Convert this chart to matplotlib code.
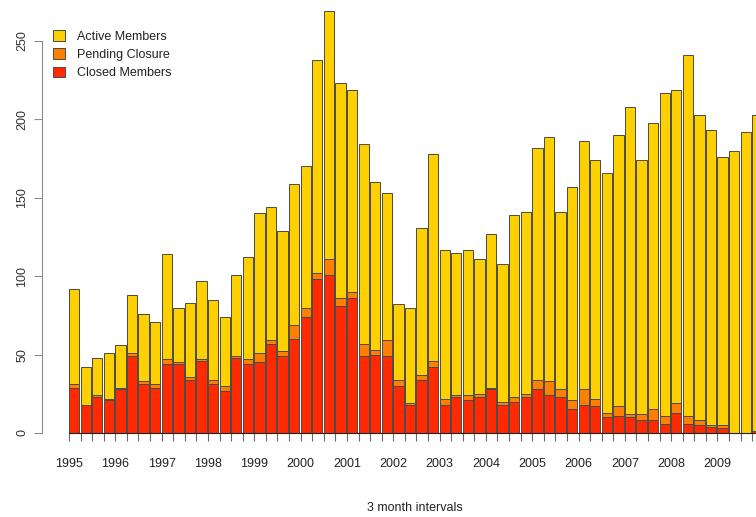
"""Quarterly membership counts, stacked bars (closed / pending / active)."""

import matplotlib

matplotlib.use("Agg")
import matplotlib.pyplot as plt
from matplotlib.patches import Patch

plt.rcParams["font.family"] = ["Liberation Sans", "DejaVu Sans"]

# one bar per quarter, 1995 Q1 onwards
totals = [92, 42, 48, 51, 56, 88, 76, 71, 114, 80,
          83, 97, 85, 74, 101, 112, 140, 144, 129, 159,
          170, 238, 269, 223, 219, 184, 160, 153, 82, 80,
          131, 178, 117, 115, 117, 111, 127, 108, 139, 141,
          182, 189, 141, 157, 186, 174, 166, 190, 208, 174,
          198, 217, 219, 241, 203, 193, 176, 180, 192, 203]
closed = [29, 18, 23, 21, 28, 49, 31, 29, 44, 44,
          34, 46, 31, 27, 48, 44, 45, 57, 49, 60,
          74, 98, 101, 81, 86, 49, 50, 49, 30, 18,
          34, 42, 18, 23, 21, 23, 28, 18, 20, 23,
          28, 24, 23, 15, 18, 17, 10, 11, 10, 8,
          8, 6, 13, 6, 5, 4, 3, 0, 0, 1]
pending = [2, 0, 1, 1, 1, 2, 2, 2, 3, 1,
           2, 1, 3, 3, 1, 3, 6, 2, 3, 9,
           6, 4, 10, 5, 4, 8, 3, 10, 4, 1,
           3, 4, 4, 1, 3, 2, 1, 2, 3, 2,
           6, 9, 5, 6, 10, 5, 3, 6, 2, 4,
           7, 5, 6, 5, 3, 1, 2, 0, 0, 0]
active = [t - c - p for t, c, p in zip(totals, closed, pending)]
years = list(range(1995, 2010))

c_active = "#FFD000"
c_pending = "#FF8000"
c_closed = "#FF2A00"

W, H = 756, 517
fig = plt.figure(figsize=(W / 100, H / 100), dpi=100)
fig.patch.set_facecolor("white")

# axes from the y-axis line (px 42) to the right figure edge; y=0 at px 433
ax = fig.add_axes([42 / W, (H - 433) / H, (W - 42) / W, (433 - 5) / H])
pitch = 11.58
x = list(range(len(totals)))
edge = dict(edgecolor="#4a4a4a", linewidth=0.7, width=0.89, align="edge")
ax.bar(x, closed, color=c_closed, **edge)
ax.bar(x, pending, bottom=closed, color=c_pending, **edge)
ax.bar(x, active, bottom=[c + p for c, p in zip(closed, pending)],
       color=c_active, **edge)

for s in ["top", "right"]:
    ax.spines[s].set_visible(False)
ax.spines["left"].set_bounds(0, 250)
ax.spines["left"].set_color("#8c8c8c")
ax.spines["bottom"].set_bounds(0, len(totals))
ax.spines["bottom"].set_color("#222222")
ax.spines["bottom"].set_linewidth(0.8)

ax.set_yticks([0, 50, 100, 150, 200, 250])
ax.tick_params(axis="y", direction="out", length=6, width=0.8, color="#8c8c8c",
               pad=4, labelsize=9, labelcolor="#333333", labelrotation=90)
for lab in ax.get_yticklabels():
    lab.set_va("center")

ax.set_xticks(range(0, len(totals), 4))
ax.set_xticklabels([str(y) for y in years])
ax.set_xticks(range(len(totals)), minor=True)
ax.tick_params(axis="x", which="both", direction="out", length=6, width=0.8,
               color="#6a6a6a", pad=12, labelsize=9, labelcolor="#222222")

# limits last, so the tick calls cannot widen them
ax.set_xlim(-27 / pitch, (W - 69) / pitch)
ax.set_ylim(0, 428 / 1.568)

fig.text(415 / W, 1 - 508 / H, "3 month intervals", ha="center", va="center",
         fontsize=9, color="#222222")

handles = [Patch(facecolor=c_active, edgecolor="#4a4a4a", linewidth=0.7),
           Patch(facecolor=c_pending, edgecolor="#4a4a4a", linewidth=0.7),
           Patch(facecolor=c_closed, edgecolor="#4a4a4a", linewidth=0.7)]
fig.legend(handles, ["Active Members", "Pending Closure", "Closed Members"],
           loc="upper left", bbox_to_anchor=(47 / W, 1 - 24 / H), frameon=False,
           fontsize=9, handlelength=0.9, handleheight=0.9, handletextpad=1.0,
           labelspacing=0.45, borderpad=0, labelcolor="#222222")

fig.savefig("out.png", dpi=100, facecolor="white")
